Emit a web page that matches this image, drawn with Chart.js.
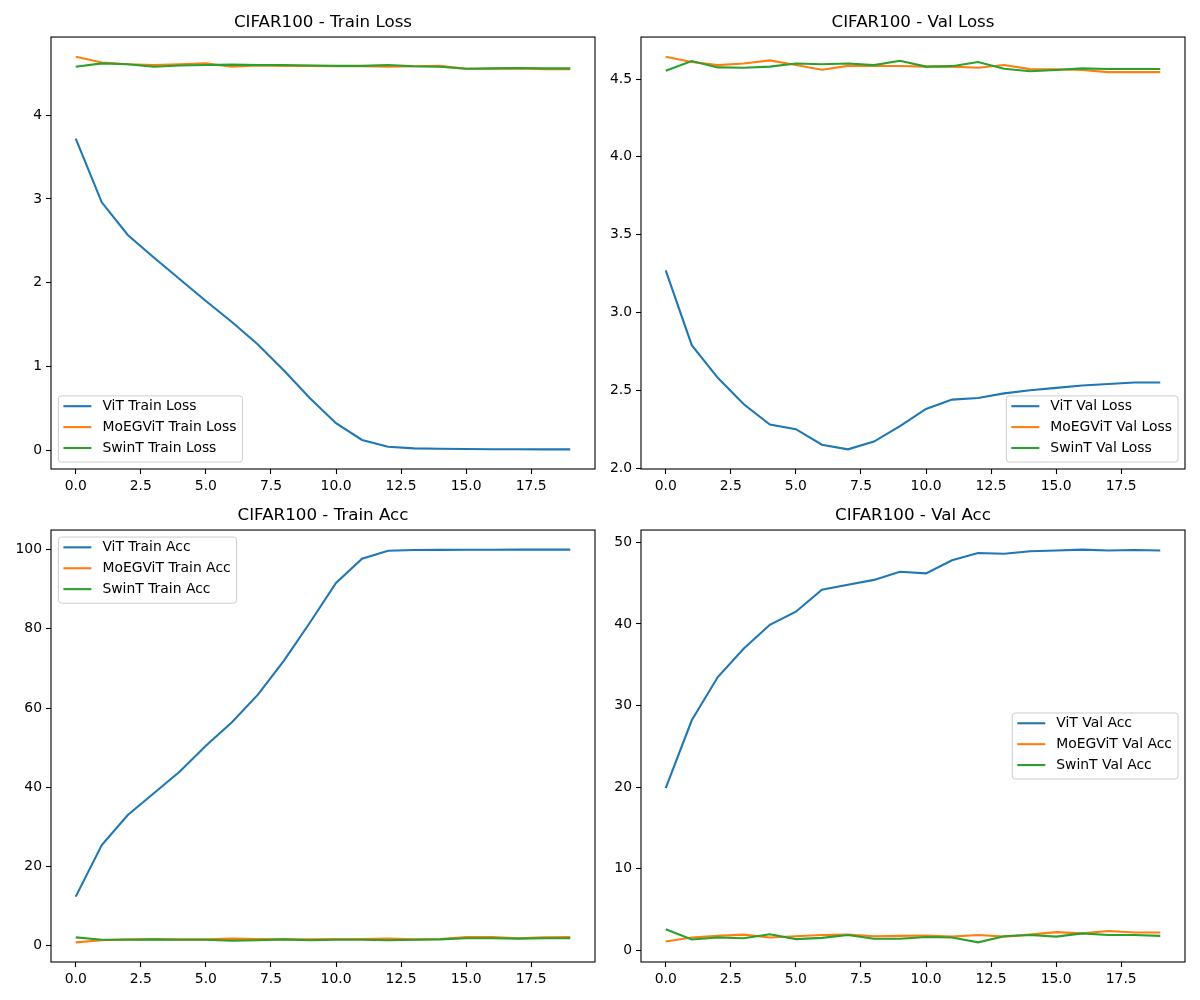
<!DOCTYPE html>
<html>
<head>
<meta charset="utf-8">
<script src="https://cdn.jsdelivr.net/npm/chart.js@4/dist/chart.umd.min.js"></script>
<style>
  html, body { margin: 0; padding: 0; background: #fff; }
  #fig { position: relative; width: 1200px; height: 1000px; }
  .panel { position: absolute; width: 600px; height: 500px; }
</style>
</head>
<body>
<div id="fig">
  <div class="panel" style="left:0;top:0"><canvas id="trainLoss" width="600" height="500"></canvas></div>
  <div class="panel" style="left:600px;top:0"><canvas id="valLoss" width="600" height="500"></canvas></div>
  <div class="panel" style="left:0;top:500px"><canvas id="trainAcc" width="600" height="500"></canvas></div>
  <div class="panel" style="left:600px;top:500px"><canvas id="valAcc" width="600" height="500"></canvas></div>
</div>
<script>
// Epocas y ticks
const epochs = [0, 1, 2, 3, 4, 5, 6, 7, 8, 9, 10, 11, 12, 13, 14, 15, 16, 17, 18, 19];
const xTicks = [0, 2.5, 5, 7.5, 10, 12.5, 15, 17.5];
const modelNames = ["ViT", "MoEGViT", "SwinT"];

// Train loss
const vitTrainLoss = [3.72, 2.96, 2.57, 2.30, 2.04, 1.78, 1.53, 1.26, 0.95, 0.62, 0.32, 0.12, 0.04, 0.02, 0.015, 0.012, 0.01, 0.009, 0.008, 0.008];
const moeTrainLoss = [4.70, 4.63, 4.61, 4.60, 4.61, 4.62, 4.58, 4.595, 4.59, 4.59, 4.585, 4.585, 4.58, 4.585, 4.59, 4.555, 4.555, 4.56, 4.55, 4.55];
const swinTrainLoss = [4.58, 4.62, 4.61, 4.58, 4.595, 4.60, 4.605, 4.60, 4.60, 4.595, 4.59, 4.59, 4.60, 4.585, 4.58, 4.555, 4.56, 4.565, 4.56, 4.56];
const trainLossTicks = [0, 1, 2, 3, 4];

// Val loss
const vitValLoss = [3.27, 2.79, 2.58, 2.41, 2.28, 2.25, 2.15, 2.12, 2.17, 2.27, 2.38, 2.44, 2.45, 2.48, 2.50, 2.515, 2.53, 2.54, 2.55, 2.55];
const moeValLoss = [4.644, 4.61, 4.59, 4.60, 4.62, 4.59, 4.56, 4.585, 4.584, 4.584, 4.58, 4.58, 4.573, 4.59, 4.564, 4.563, 4.558, 4.545, 4.545, 4.545];
const swinValLoss = [4.553, 4.616, 4.575, 4.573, 4.58, 4.60, 4.595, 4.60, 4.59, 4.618, 4.58, 4.583, 4.61, 4.566, 4.55, 4.558, 4.569, 4.565, 4.565, 4.565];
const valLossTicks = [2.0, 2.5, 3.0, 3.5, 4.0, 4.5];

// Train acc
const vitTrainAcc = [12.4, 25.4, 33.0, 38.5, 44.0, 50.5, 56.4, 63.4, 72.0, 81.6, 91.6, 97.7, 99.7, 99.9, 99.95, 99.97, 99.98, 99.99, 99.99, 99.99];
const moeTrainAcc = [0.85, 1.4, 1.6, 1.6, 1.6, 1.6, 1.8, 1.7, 1.6, 1.6, 1.7, 1.7, 1.8, 1.6, 1.7, 2.2, 2.2, 1.9, 2.1, 2.2];
const swinTrainAcc = [2.1, 1.5, 1.5, 1.6, 1.5, 1.5, 1.25, 1.4, 1.6, 1.4, 1.5, 1.5, 1.4, 1.5, 1.6, 1.9, 1.9, 1.8, 1.9, 1.9];
const trainAccTicks = [0, 20, 40, 60, 80, 100];

// Val acc
const vitValAcc = [19.9, 28.2, 33.5, 37.0, 39.9, 41.5, 44.2, 44.8, 45.4, 46.4, 46.2, 47.8, 48.7, 48.6, 48.9, 49.0, 49.1, 49.0, 49.06, 49.0];
const moeValAcc = [1.1, 1.6, 1.8, 1.95, 1.6, 1.75, 1.9, 1.95, 1.75, 1.8, 1.85, 1.7, 1.9, 1.7, 1.95, 2.25, 2.1, 2.4, 2.2, 2.2];
const swinValAcc = [2.6, 1.35, 1.6, 1.5, 2.0, 1.4, 1.55, 1.9, 1.45, 1.45, 1.65, 1.6, 1.0, 1.75, 1.9, 1.7, 2.1, 1.9, 1.9, 1.8];
const valAccTicks = [0, 10, 20, 30, 40, 50];

const colors = ["#1f77b4", "#ff7f0e", "#2ca02c"];
const FONT = "DejaVu Sans";

Chart.defaults.font.family = FONT;
Chart.defaults.color = "#000";

// marco completo del eje (estilo matplotlib)
const frame = {
  id: "frame",
  afterDatasetsDraw(chart) {
    const { ctx, chartArea: a } = chart;
    ctx.save();
    ctx.strokeStyle = "#000";
    ctx.lineWidth = 1.1;
    ctx.strokeRect(a.left, a.top, a.right - a.left, a.bottom - a.top);
    ctx.restore();
  },
};

// leyenda dentro del area del grafico
const boxLegend = {
  id: "boxLegend",
  afterDraw(chart, args, opts) {
    const ctx = chart.ctx;
    const a = chart.chartArea;
    const sets = chart.data.datasets;
    ctx.save();
    ctx.font = `13.9px "${FONT}"`;
    const textW = Math.max(...sets.map((d) => ctx.measureText(d.label).width));
    const w = 5 + 28 + 11 + textW + 6;
    const rowH = 20.9;
    const h = 10.3 + rowH * (sets.length - 1) + 14;
    const loc = opts.loc || "upper left";
    const x = loc.includes("left") ? a.left + 7.4 : a.right - 7 - w;
    let y;
    if (loc.startsWith("upper")) y = a.top + 7;
    else if (loc.startsWith("lower")) y = a.bottom - 7 - h;
    else y = (a.top + a.bottom - h) / 2;

    ctx.beginPath();
    ctx.roundRect(x, y, w, h, 3);
    ctx.fillStyle = "rgba(255,255,255,0.8)";
    ctx.fill();
    ctx.strokeStyle = "#cccccc";
    ctx.lineWidth = 1;
    ctx.stroke();

    sets.forEach((d, i) => {
      const cy = y + 10.3 + i * rowH;
      ctx.beginPath();
      ctx.moveTo(x + 5, cy);
      ctx.lineTo(x + 33, cy);
      ctx.strokeStyle = d.borderColor;
      ctx.lineWidth = 2.1;
      ctx.stroke();
      ctx.fillStyle = "#000";
      ctx.textBaseline = "middle";
      ctx.textAlign = "left";
      ctx.fillText(d.label, x + 44, cy);
    });
    ctx.restore();
  },
};

// margen de 5% como matplotlib
const padRange = (series) => {
  const all = series.flat();
  const mn = Math.min(...all), mx = Math.max(...all);
  const m = (mx - mn) * 0.05;
  return [mn - m, mx + m];
};

function makePanel(id, title, suffix, series, yTicks, yFmt, opt) {
  const [yMin, yMax] = padRange(series);
  const datasets = series.map((vals, i) => ({
    label: `${modelNames[i]} ${suffix}`,
    data: vals.map((v, k) => ({ x: epochs[k], y: v })),
    borderColor: colors[i],
    backgroundColor: colors[i],
    borderWidth: 2.1,
    pointRadius: 0,
    tension: 0,
    fill: false,
    order: series.length - i,
  }));

  return new Chart(document.getElementById(id), {
    type: "line",
    data: { datasets: datasets },
    options: {
      responsive: false,
      animation: false,
      devicePixelRatio: 1,
      events: [],
      layout: { padding: { left: 0, right: opt.padRight, top: 0, bottom: 0 } },
      plugins: {
        legend: { display: false },
        tooltip: { enabled: false },
        title: {
          display: true,
          fullSize: false,
          text: title,
          color: "#000",
          font: { family: FONT, size: 16.7, weight: "normal" },
          padding: { top: opt.titleTop, bottom: 4 },
        },
        boxLegend: { loc: opt.loc },
      },
      scales: {
        x: {
          type: "linear",
          min: -0.95,
          max: 19.95,
          afterBuildTicks: (ax) => {
            ax.ticks = xTicks.map((v) => ({ value: v }));
          },
          afterFit: (ax) => {
            ax.height = opt.xAxisH;
          },
          ticks: {
            callback: (v) => Number(v).toFixed(1),
            font: { family: FONT, size: 13.9 },
            color: "#000",
            padding: 4,
            maxRotation: 0,
            autoSkip: false,
          },
          grid: {
            drawOnChartArea: false,
            drawTicks: true,
            tickLength: 5,
            tickColor: "#000",
            tickWidth: 1.1,
          },
          border: { display: false },
        },
        y: {
          type: "linear",
          min: yMin,
          max: yMax,
          afterBuildTicks: (ax) => {
            ax.ticks = yTicks.map((v) => ({ value: v }));
          },
          afterFit: (ax) => {
            ax.width = opt.yAxisW;
          },
          ticks: {
            callback: yFmt,
            font: { family: FONT, size: 13.9 },
            color: "#000",
            padding: 4,
            autoSkip: false,
          },
          grid: {
            drawOnChartArea: false,
            drawTicks: true,
            tickLength: 5,
            tickColor: "#000",
            tickWidth: 1.1,
          },
          border: { display: false },
        },
      },
    },
    plugins: [frame, boxLegend],
  });
}

const intFmt = (v) => String(Math.round(v));
const oneDec = (v) => Number(v).toFixed(1);

makePanel("trainLoss", "CIFAR100 - Train Loss", "Train Loss",
  [vitTrainLoss, moeTrainLoss, swinTrainLoss], trainLossTicks, intFmt,
  { padRight: 5, yAxisW: 51, xAxisH: 31, titleTop: 13, loc: "lower left" });

makePanel("valLoss", "CIFAR100 - Val Loss", "Val Loss",
  [vitValLoss, moeValLoss, swinValLoss], valLossTicks, oneDec,
  { padRight: 15, yAxisW: 41, xAxisH: 31, titleTop: 13, loc: "lower right" });

makePanel("trainAcc", "CIFAR100 - Train Acc", "Train Acc",
  [vitTrainAcc, moeTrainAcc, swinTrainAcc], trainAccTicks, intFmt,
  { padRight: 5, yAxisW: 51, xAxisH: 38, titleTop: 6, loc: "upper left" });

makePanel("valAcc", "CIFAR100 - Val Acc", "Val Acc",
  [vitValAcc, moeValAcc, swinValAcc], valAccTicks, intFmt,
  { padRight: 15, yAxisW: 41, xAxisH: 38, titleTop: 6, loc: "center right" });
</script>
</body>
</html>
